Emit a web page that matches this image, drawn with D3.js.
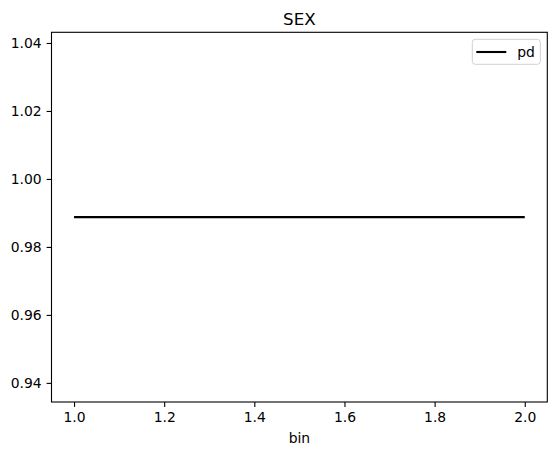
<!DOCTYPE html>
<html>
<head>
  <meta charset="utf-8">
  <script src="https://d3js.org/d3.v7.min.js"></script>
  <style>
    body { margin: 0; background: #fff; }
    text { font-family: "DejaVu Sans", sans-serif; }
  </style>
</head>
<body>
  <svg width="556" height="455"></svg>
  <script>
    // Data
    const bins = [1, 2];
    const pd = [0.98876, 0.98876];
    const xTicks = [1.0, 1.2, 1.4, 1.6, 1.8, 2.0];
    const yTicks = [0.94, 0.96, 0.98, 1.00, 1.02, 1.04];

    const margin = {top: 32.3, left: 51.5, right: 556 - 547.3, bottom: 455 - 402};
    const width = 556 - margin.left - margin.right;
    const height = 455 - margin.top - margin.bottom;

    const svg = d3.select('svg');
    const g = svg.append('g').attr('transform', `translate(${margin.left},${margin.top})`);

    // matplotlib-like limits: constant line expanded by 5%, then 5% margins
    const v = pd[0];
    const lo = v * 0.95, hi = v * 1.05, m = (hi - lo) * 0.05;
    const y = d3.scaleLinear().domain([lo - m, hi + m]).range([height, 0]);
    const x = d3.scaleLinear().domain([0.95, 2.05]).range([0, width]);

    const tickLen = 4.9, fs = '13.9px';

    // x axis
    const xAxis = g.append('g')
      .attr('transform', `translate(0,${height})`)
      .call(d3.axisBottom(x).tickValues(xTicks).tickFormat(d3.format('.1f')).tickSize(tickLen).tickPadding(4.9));
    // y axis
    const yAxis = g.append('g')
      .call(d3.axisLeft(y).tickValues(yTicks).tickFormat(d3.format('.2f')).tickSize(tickLen).tickPadding(4.9));

    [xAxis, yAxis].forEach(a => {
      a.select('.domain').remove();
      a.selectAll('line').attr('stroke', '#000').attr('stroke-width', 1.1);
      a.selectAll('text').attr('fill', '#000').style('font-size', fs).style('font-family', '"DejaVu Sans", sans-serif');
    });

    // frame
    g.append('rect')
      .attr('width', width).attr('height', height)
      .attr('fill', 'none').attr('stroke', '#000').attr('stroke-width', 1.1);

    // line
    const line = d3.line().x((d, i) => x(bins[i])).y(d => y(d));
    g.append('path')
      .datum(pd)
      .attr('d', line)
      .attr('fill', 'none')
      .attr('stroke', '#000')
      .attr('stroke-width', 2.1);

    // legend
    const lg = g.append('g').attr('transform', `translate(${width - 75},${7})`);
    lg.append('rect')
      .attr('width', 68).attr('height', 25).attr('rx', 3)
      .attr('fill', '#fff').attr('fill-opacity', 0.8)
      .attr('stroke', '#d0d0d0').attr('stroke-width', 1);
    lg.append('line')
      .attr('x1', 4).attr('x2', 34).attr('y1', 12.7).attr('y2', 12.7)
      .attr('stroke', '#000').attr('stroke-width', 2.1);
    lg.append('text')
      .attr('x', 45).attr('y', 17.5)
      .style('font-size', fs)
      .text('pd');

    // title
    svg.append('text')
      .attr('x', margin.left + width / 2).attr('y', margin.top - 7)
      .attr('text-anchor', 'middle')
      .style('font-size', '16.7px')
      .text('SEX');

    // x label
    svg.append('text')
      .attr('x', margin.left + width / 2).attr('y', 443)
      .attr('text-anchor', 'middle')
      .style('font-size', fs)
      .text('bin');
  </script>
</body>
</html>
